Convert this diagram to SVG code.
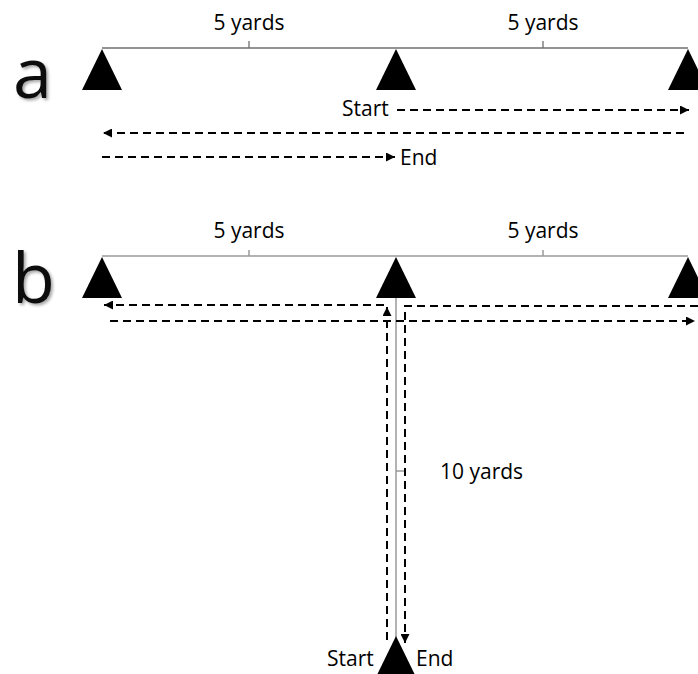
<svg xmlns="http://www.w3.org/2000/svg" width="698" height="674" viewBox="0 0 698 674">
<defs>
<style>
.t{font-family:"Open Sans","Liberation Sans",sans-serif;font-size:21px;fill:#000}
.big{font-family:"Open Sans","Liberation Sans",sans-serif;font-size:70px;fill:#111;filter:url(#sh)}
.cone{fill:#000}
.meas{stroke:#707070;stroke-width:1.3;fill:none}
.measb{stroke:#9a9a9a;stroke-width:1.5;fill:none}
.d{stroke:#000;stroke-width:2;stroke-dasharray:8 5;fill:none}
</style>
<filter id="sh" x="-20%" y="-20%" width="150%" height="150%">
<feDropShadow dx="2" dy="2" stdDeviation="1.5" flood-color="#000" flood-opacity="0.35"/>
</filter>
<marker id="ah" viewBox="0 0 10 10" refX="10" refY="5" markerWidth="4.5" markerHeight="4.5" orient="auto" markerUnits="strokeWidth">
<path d="M0,0 L10,5 L0,10 z" fill="#000"/>
</marker>
</defs>

<g id="label-a"><text class="big" x="13" y="98">a</text></g>
<g id="label-b"><text class="big" x="12" y="303">b</text></g>

<g id="measure-a">
<path class="meas" d="M102,48 H688 M249,48 V41 M543,48 V41"/>
<text class="t" x="249" y="30" text-anchor="middle">5 yards</text>
<text class="t" x="543" y="30" text-anchor="middle">5 yards</text>
</g>
<g id="cone-a1"><path class="cone" d="M102,49 L122,90 L82,90 z"/></g>
<g id="cone-a2"><path class="cone" d="M396,49 L416,90 L376,90 z"/></g>
<g id="cone-a3"><path class="cone" d="M688,49 L708,90 L668,90 z"/></g>
<g id="text-a-start"><text class="t" x="342" y="116">Start</text></g>
<g id="text-a-end"><text class="t" x="400" y="165">End</text></g>

<g id="measure-b">
<path class="measb" d="M102,256 H688 M249,256 V250 M543,256 V250 M396,298 V637 M396,471 H404"/>
<text class="t" x="249" y="238" text-anchor="middle">5 yards</text>
<text class="t" x="543" y="238" text-anchor="middle">5 yards</text>
<text class="t" x="440" y="479">10 yards</text>
</g>
<g id="cone-b1"><path class="cone" d="M102,257 L122,298 L82,298 z"/></g>
<g id="cone-b2"><path class="cone" d="M396,257 L416,298 L376,298 z"/></g>
<g id="cone-b3"><path class="cone" d="M688,257 L708,298 L668,298 z"/></g>
<g id="cone-b4"><path class="cone" d="M396,636 L416,677 L376,677 z"/></g>
<g id="text-b-start"><text class="t" x="327" y="666">Start</text></g>
<g id="text-b-end"><text class="t" x="416" y="666">End</text></g>

<g id="connectors">
<path class="d" d="M397,110 H689" marker-end="url(#ah)"/>
<path class="d" d="M684,133 H103" marker-end="url(#ah)"/>
<path class="d" d="M102,157 H395" marker-end="url(#ah)"/>
<path class="d" d="M387,640 V307" marker-end="url(#ah)"/>
<path class="d" d="M384,305 H104" marker-end="url(#ah)"/>
<path class="d" d="M110,321 H695" marker-end="url(#ah)"/>
<path class="d" d="M698,306 H405 V643" marker-end="url(#ah)"/>
</g>
</svg>
